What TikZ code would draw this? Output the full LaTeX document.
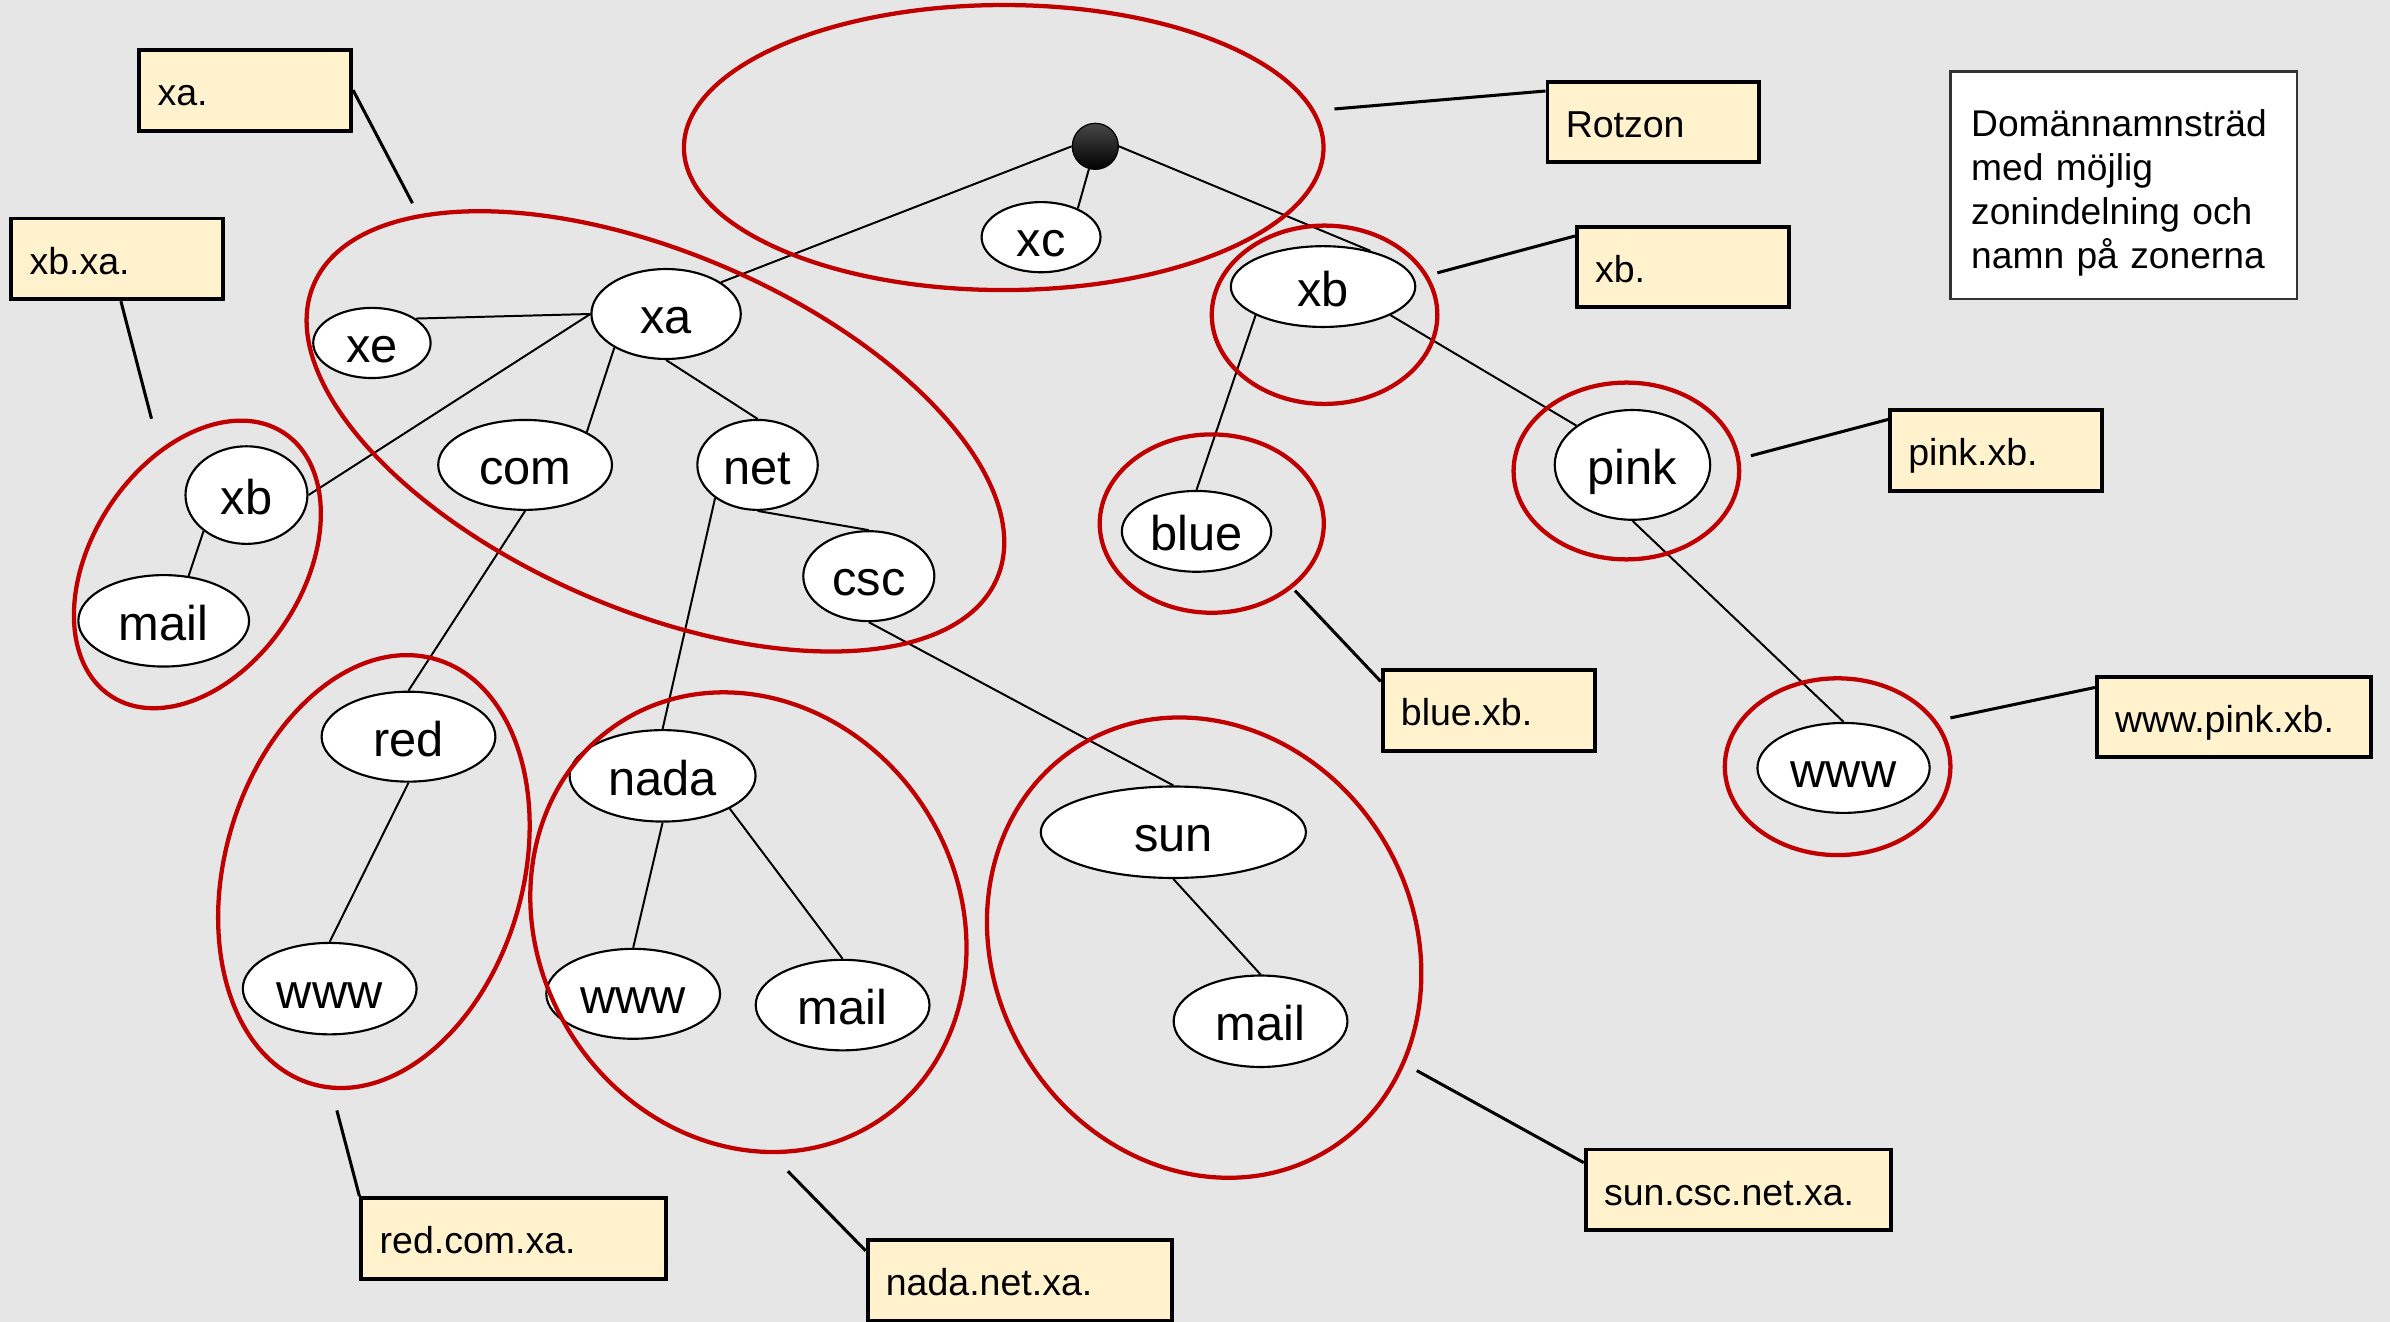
\documentclass[tikz,border=0pt]{standalone}
\usepackage{fontspec}
\setmainfont{Liberation Sans}
\usetikzlibrary{shapes.geometric}
\definecolor{bg}{RGB}{230,230,230}
\definecolor{zred}{RGB}{192,0,0}
\definecolor{boxfill}{RGB}{255,242,204}
\tikzset{
  nd/.style={ellipse, draw=black, line width=0.7pt, fill=white, inner sep=0pt,
    font=\fontsize{16}{19}\selectfont, text height=12.8pt, text depth=0pt},
  treeedge/.style={line width=0.65pt},
  zone/.style={draw=zred, line width=1.4pt},
  lbl/.style={rectangle, draw=black, line width=1.3pt, fill=boxfill, inner xsep=6pt,
    inner ysep=0pt, align=left, font=\fontsize{12.3}{14.5}\selectfont,
    text height=10pt, text depth=0pt},
  lblnarrow/.style={lbl, text width=57.5pt, minimum height=26.5pt},
  lblwide/.style={lbl, text width=88pt, minimum height=26.5pt},
  conn/.style={line width=1pt}
}
\begin{document}
\begin{tikzpicture}[x=0.5pt,y=0.5pt]
\fill[bg] (0,0) rectangle (1568,-867);
\useasboundingbox (0,0) rectangle (1568,-867);

% tree nodes
\node[circle, minimum size=15.1pt, inner sep=0pt, draw=black, line width=0.4pt,
  top color=black!72, middle color=black, bottom color=black] (root) at (718.6,-96) {};
\node[nd, minimum width=39pt, minimum height=23pt] (xc) at (683,-155.6) {xc};
\node[nd, minimum width=49pt, minimum height=29.5pt] (xa) at (437,-206) {xa};
\node[nd, minimum width=38.5pt, minimum height=23pt] (xe) at (244,-225) {xe};
\node[nd, minimum width=57pt, minimum height=29.5pt] (com) at (344.5,-305) {com};
\node[nd, minimum width=39.5pt, minimum height=29.5pt] (net) at (497,-305) {net};
\node[nd, minimum width=43pt, minimum height=29.5pt] (csc) at (570,-378) {csc};
\node[nd, minimum width=40pt, minimum height=32pt] (xb1) at (161.7,-324.8) {xb};
\node[nd, minimum width=56pt, minimum height=30pt] (mail1) at (107.4,-407.3) {mail};
\node[nd, minimum width=60.5pt, minimum height=26.5pt] (xb2) at (868,-188) {xb};
\node[nd, minimum width=49pt, minimum height=26.5pt] (blue) at (785,-348.6) {blue};
\node[nd, minimum width=51pt, minimum height=36pt] (pink) at (1071,-305) {pink};
\node[nd, minimum width=56.5pt, minimum height=29.5pt] (www2) at (1209.5,-503.8) {www};
\node[nd, minimum width=87pt, minimum height=30pt] (sun) at (769.8,-546) {sun};
\node[nd, minimum width=57pt, minimum height=30pt] (mail3) at (827,-670) {mail};
\node[nd, minimum width=57pt, minimum height=29.5pt] (red) at (268,-483.3) {red};
\node[nd, minimum width=57pt, minimum height=30pt] (www1) at (216.3,-648.6) {www};
\node[nd, minimum width=61pt, minimum height=30pt] (nada) at (434.7,-509) {nada};
\node[nd, minimum width=57pt, minimum height=29.5pt] (www3) at (415.4,-652) {www};
\node[nd, minimum width=57pt, minimum height=29.7pt] (mail4) at (552.8,-659.4) {mail};

% tree edges
\draw[treeedge] (root.west) -- (xa.30);
\draw[treeedge] (root) -- (xc.38);
\draw[treeedge] (root.east) -- (xb2.37);
\draw[treeedge] (xe.29) -- (xa.west);
\draw[treeedge] (xa.west) -- (xb1.east);
\draw[treeedge] (xa.213) -- (com.28);
\draw[treeedge] (xa.south) -- (net.north);
\draw[treeedge] (net.south) -- (csc.north);
\draw[treeedge] (net.218) -- (nada.north);
\draw[treeedge] (com.south) -- (red.north);
\draw[treeedge] (red.south) -- (www1.north);
\draw[treeedge] (xb1.220) -- (mail1.61);
\draw[treeedge] (csc.south) -- (sun.north);
\draw[treeedge] (sun.south) -- (mail3.north);
\draw[treeedge] (nada.south) -- (www3.north);
\draw[treeedge] (nada.-26) -- (mail4.north);
\draw[treeedge] (xb2.203) -- (blue.north);
\draw[treeedge] (xb2.-23) -- (pink.145);
\draw[treeedge] (pink.south) -- (www2.north);

% zones
\draw[zone] (658.5,-96.8) ellipse [x radius=209.8, y radius=93.5];
\draw[zone, rotate around={-23.3:(430,-283)}] (430,-283) ellipse [x radius=244, y radius=117];
\draw[zone, rotate around={56.7:(129.5,-370.3)}] (129.5,-370.3) ellipse [x radius=103.3, y radius=69.2];
\draw[zone, rotate around={73.8:(245.3,-571.8)}] (245.3,-571.8) ellipse [x radius=145.1, y radius=97.7];
\draw[zone, rotate around={-57.5:(491,-605)}] (491,-605) ellipse [x radius=155.8, y radius=137.6];
\draw[zone, rotate around={-58.6:(790,-621.7)}] (790,-621.7) ellipse [x radius=155.8, y radius=137.2];
\draw[zone] (869,-206.5) ellipse [x radius=74, y radius=58.5];
\draw[zone] (795,-343.5) ellipse [x radius=73.5, y radius=58.5];
\draw[zone] (1067,-309) ellipse [x radius=74, y radius=58];
\draw[zone] (1205.6,-503) ellipse [x radius=74, y radius=58];

% label boxes
\node[lblnarrow] (lxa) at (160.85,-59.15) {xa.};
\node[lblnarrow] (lxbxa) at (76.9,-169.85) {xb.xa.};
\node[lblnarrow] (lrot) at (1084.75,-80) {Rotzon};
\node[lblnarrow] (lxb) at (1104,-175.15) {xb.};
\node[lblnarrow] (lpink) at (1309.5,-295.5) {pink.xb.};
\node[lblnarrow] (lblue) at (976.6,-466) {blue.xb.};
\node[lbl, text width=77.8pt, minimum height=26.5pt] (lwww) at (1465.45,-470.4) {www.pink.xb.};
\node[lblwide] (lsun) at (1140.35,-780.65) {sun.csc.net.xa.};
\node[lblwide] (lred) at (337.1,-812.55) {red.com.xa.};
\node[lblwide] (lnada) at (669.2,-840.25) {nada.net.xa.};

\node[rectangle, draw=black!80, line width=0.8pt, fill=white, inner xsep=6.8pt,
  text width=100pt, minimum height=74.5pt, align=left,
  font=\fontsize{12.2}{14.5}\selectfont] (title) at (1393.2,-121.5)
  {\rule{0pt}{13.8pt}Domännamnsträd\\med möjlig\\zonindelning och\\namn på zonerna};

% label connectors
\coordinate (cxa) at (270.6,-133.3);
\coordinate (cxbxa) at (99.4,-274.7);
\coordinate (crot) at (875.5,-71.5);
\coordinate (cxb) at (943,-179);
\coordinate (cpink) at (1148.7,-299);
\coordinate (cblue) at (849.6,-387.5);
\coordinate (cwww) at (1279.6,-471);
\coordinate (csun) at (929.5,-702.4);
\coordinate (cred) at (221,-728.5);
\coordinate (cnada) at (516.9,-768.4);
\draw[conn] (lxa.east) -- (cxa);
\draw[conn] (lxbxa.-85) -- (cxbxa);
\draw[conn] (crot) -- (lrot.164.7);
\draw[conn] (cxb) -- (lxb.164.6);
\draw[conn] (cpink) -- (lpink.164.7);
\draw[conn] (cblue) -- (lblue.165.5);
\draw[conn] (cwww) -- (lwww.168);
\draw[conn] (csun) -- (lsun.170);
\draw[conn] (cred) -- (lred.north west);
\draw[conn] (cnada) -- (lnada.169.4);
\end{tikzpicture}
\end{document}
